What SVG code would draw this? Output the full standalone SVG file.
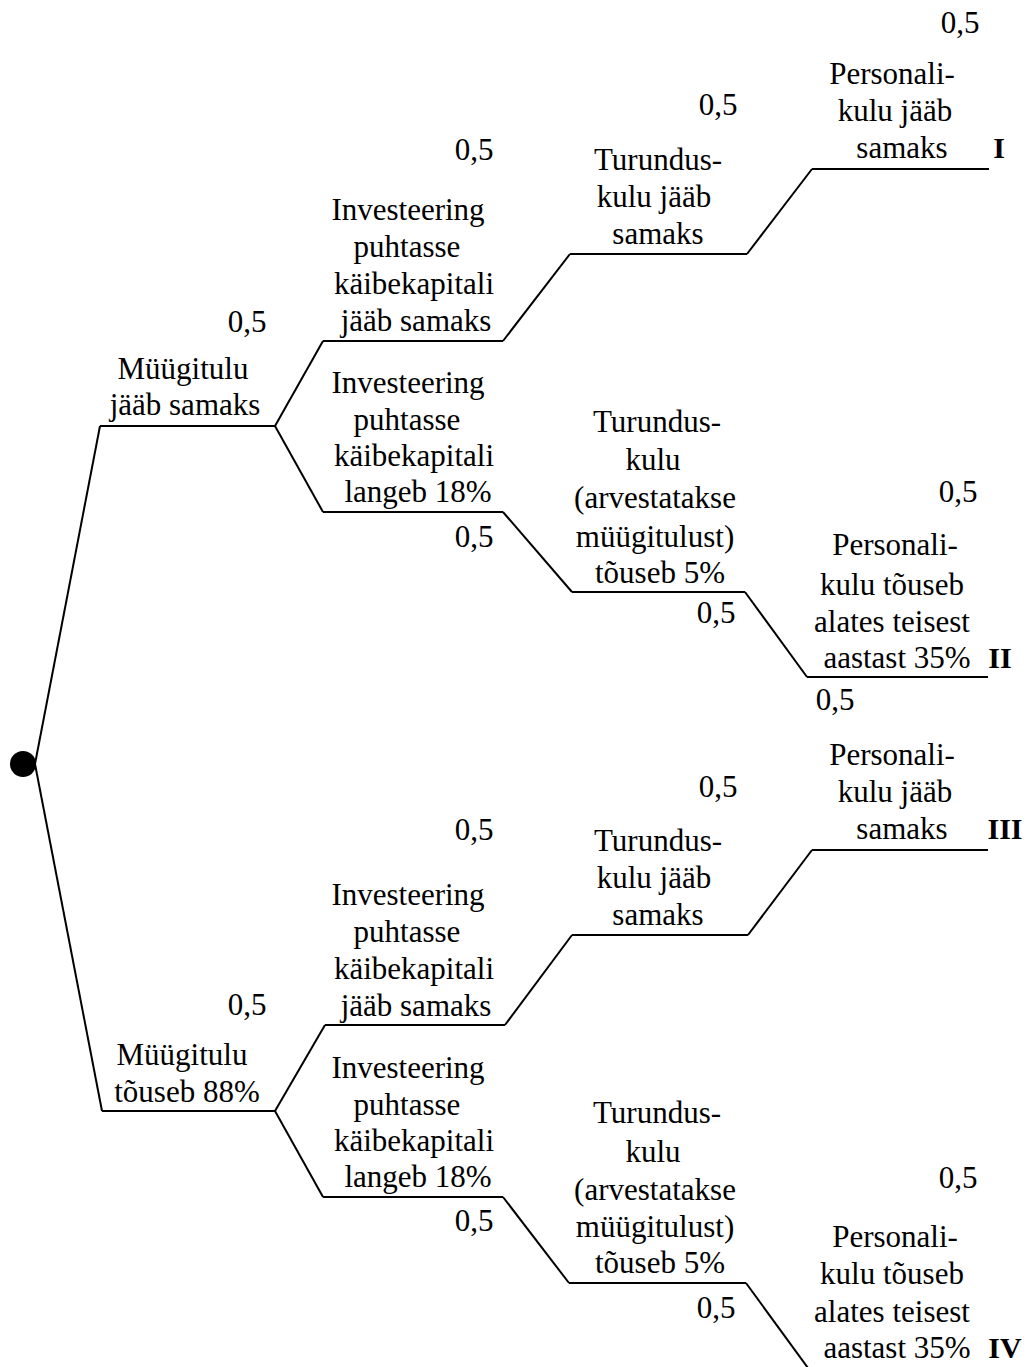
<svg xmlns="http://www.w3.org/2000/svg" width="1029" height="1367" viewBox="0 0 1029 1367">
<style>
text{font-size:31px;fill:#000;text-anchor:middle}
.n{font-weight:bold;font-size:30px}
line,path{stroke:#000;stroke-width:2;fill:none}
</style>
<rect width="1029" height="1367" fill="#fff"/>
<g font-family="Liberation Serif, Times New Roman, serif">
<g id="connectors">
<path d="M35,764 L100,426"/>
<path d="M35,764 L102,1111"/>
<path d="M275,426 L323,341"/>
<path d="M275,426 L323,512"/>
<path d="M503,341 L570,254"/>
<path d="M503,512 L572,592"/>
<path d="M747,254 L812,169"/>
<path d="M745,592 L807,677"/>
<path d="M275,1111 L325,1025"/>
<path d="M275,1111 L323,1197"/>
<path d="M505,1025 L572,935"/>
<path d="M503,1197 L569,1283"/>
<path d="M748,935 L812,850"/>
<path d="M746,1283 L808,1368"/>
</g>
<g id="root"><circle cx="23" cy="764" r="13" fill="#000"/></g>
<g id="n1">
<line x1="100" y1="426" x2="275" y2="426"/>
<text x="247" y="332">0,5</text>
<text x="183" y="379">Müügitulu</text>
<text x="185" y="415">jääb samaks</text>
</g>
<g id="n11">
<line x1="323" y1="341" x2="503" y2="341"/>
<text x="474" y="160">0,5</text>
<text x="408" y="220">Investeering</text>
<text x="407" y="257">puhtasse</text>
<text x="414" y="294">käibekapitali</text>
<text x="416" y="331">jääb samaks</text>
</g>
<g id="n12">
<line x1="323" y1="512" x2="503" y2="512"/>
<text x="408" y="393">Investeering</text>
<text x="407" y="430">puhtasse</text>
<text x="414" y="466">käibekapitali</text>
<text x="418" y="502">langeb 18%</text>
<text x="474" y="547">0,5</text>
</g>
<g id="n111">
<line x1="570" y1="254" x2="747" y2="254"/>
<text x="718" y="115">0,5</text>
<text x="658" y="170">Turundus-</text>
<text x="654" y="207">kulu jääb</text>
<text x="658" y="244">samaks</text>
</g>
<g id="n1111">
<line x1="812" y1="169" x2="989" y2="169"/>
<text x="960" y="33">0,5</text>
<text x="892" y="84">Personali-</text>
<text x="895" y="121">kulu jääb</text>
<text x="902" y="158">samaks</text>
<text class="n" x="999" y="158">I</text>
</g>
<g id="n121">
<line x1="572" y1="592" x2="745" y2="592"/>
<text x="657" y="432">Turundus-</text>
<text x="653" y="470">kulu</text>
<text x="655" y="508">(arvestatakse</text>
<text x="655" y="547">müügitulust)</text>
<text x="660" y="583">tõuseb 5%</text>
<text x="716" y="623">0,5</text>
</g>
<g id="n1211">
<line x1="807" y1="677" x2="988" y2="677"/>
<text x="958" y="502">0,5</text>
<text x="895" y="555">Personali-</text>
<text x="892" y="595">kulu tõuseb</text>
<text x="892" y="632">alates teisest</text>
<text x="897" y="668">aastast 35%</text>
<text class="n" x="1000" y="668">II</text>
<text x="835" y="710">0,5</text>
</g>
<g id="n2">
<line x1="102" y1="1111" x2="275" y2="1111"/>
<text x="247" y="1015">0,5</text>
<text x="182" y="1065">Müügitulu</text>
<text x="187" y="1102">tõuseb 88%</text>
</g>
<g id="n21">
<line x1="325" y1="1025" x2="505" y2="1025"/>
<text x="474" y="840">0,5</text>
<text x="408" y="905">Investeering</text>
<text x="407" y="942">puhtasse</text>
<text x="414" y="979">käibekapitali</text>
<text x="416" y="1016">jääb samaks</text>
</g>
<g id="n22">
<line x1="323" y1="1197" x2="503" y2="1197"/>
<text x="408" y="1078">Investeering</text>
<text x="407" y="1115">puhtasse</text>
<text x="414" y="1151">käibekapitali</text>
<text x="418" y="1187">langeb 18%</text>
<text x="474" y="1231">0,5</text>
</g>
<g id="n211">
<line x1="572" y1="935" x2="748" y2="935"/>
<text x="718" y="797">0,5</text>
<text x="658" y="851">Turundus-</text>
<text x="654" y="888">kulu jääb</text>
<text x="658" y="925">samaks</text>
</g>
<g id="n2111">
<line x1="812" y1="850" x2="988" y2="850"/>
<text x="892" y="765">Personali-</text>
<text x="895" y="802">kulu jääb</text>
<text x="902" y="839">samaks</text>
<text class="n" x="1005" y="839">III</text>
</g>
<g id="n221">
<line x1="569" y1="1283" x2="746" y2="1283"/>
<text x="657" y="1123">Turundus-</text>
<text x="653" y="1162">kulu</text>
<text x="655" y="1200">(arvestatakse</text>
<text x="655" y="1237">müügitulust)</text>
<text x="660" y="1273">tõuseb 5%</text>
<text x="716" y="1318">0,5</text>
</g>
<g id="n2211">
<text x="958" y="1188">0,5</text>
<text x="895" y="1247">Personali-</text>
<text x="892" y="1284">kulu tõuseb</text>
<text x="892" y="1322">alates teisest</text>
<text x="897" y="1358">aastast 35%</text>
<text class="n" x="1005" y="1358">IV</text>
</g>
</g>
</svg>
